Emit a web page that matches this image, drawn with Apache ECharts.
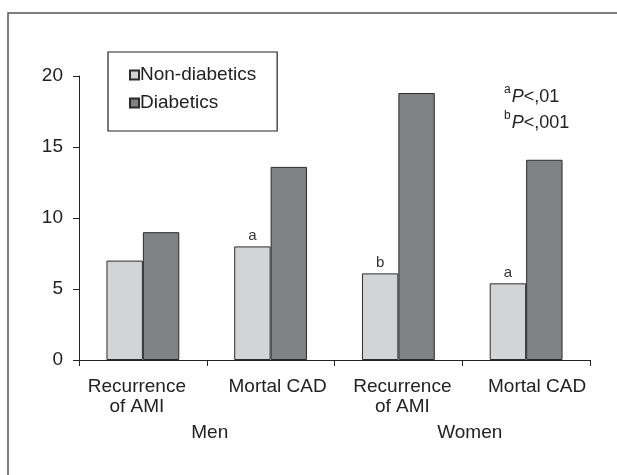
<!DOCTYPE html>
<html>
<head>
<meta charset="utf-8">
<script src="https://cdn.jsdelivr.net/npm/echarts@6/dist/echarts.min.js"></script>
<style>html,body{margin:0;padding:0;background:#fff}#c{width:617px;height:475px}</style>
</head>
<body>
<div id="c"></div>
<script>
var categories = ['Recurrence\nof AMI', 'Mortal CAD', 'Recurrence\nof AMI', 'Mortal CAD'];
var groups = ['Men', 'Women'];
var nonDiabetics = [7.0, 8.0, 6.1, 5.4];
var diabetics = [9.0, 13.6, 18.8, 14.1];
var annotations = ['', 'a', 'b', 'a'];
var seriesNames = ['Non-diabetics', 'Diabetics'];
var yMin = 0, yMax = 20, yStep = 5;

var FONT = '"Liberation Sans", Arial, sans-serif';

// horizontal nudges of the axis labels (layout only)
function nudge(px) {
  return px >= 0 ? [0, 0, 0, 2 * px] : [0, -2 * px, 0, 0];
}
var catShift = [-6, 7, 4, 11];
var grpShift = [3, 7.5];

var chart = echarts.init(document.getElementById('c'), null, {renderer: 'canvas'});
chart.setOption({
  animation: false,
  backgroundColor: '#fff',
  textStyle: {fontFamily: FONT},
  grid: {left: 79, right: 27, top: 76, bottom: 115, containLabel: false},
  legend: {
    orient: 'vertical', left: 108, top: 52,
    padding: [13, 21, 18, 21],
    borderColor: '#222', borderWidth: 1.2,
    itemWidth: 9, itemHeight: 9, itemGap: 8,
    icon: 'rect',
    textStyle: {fontFamily: FONT, fontSize: 19, color: '#222', lineHeight: 20, padding: [0, 0, 0, -4]},
    data: seriesNames
  },
  title: {
    left: 504, top: 84, padding: 0,
    text: '{s|a}{i|P}{n|<,01}\n{s|b}{i|P}{n|<,001}',
    textStyle: {
      fontFamily: FONT, fontWeight: 'normal', fontSize: 18, color: '#222', lineHeight: 26,
      rich: {
        s: {fontFamily: FONT, fontSize: 12, color: '#222', verticalAlign: 'top', lineHeight: 26, padding: [0, 1, 0, 0]},
        i: {fontFamily: FONT, fontSize: 18, fontStyle: 'italic', color: '#222', lineHeight: 26},
        n: {fontFamily: FONT, fontSize: 18, color: '#222', lineHeight: 26}
      }
    }
  },
  xAxis: [{
    type: 'category', position: 'bottom',
    data: categories.map(function (c, i) { return {value: c, textStyle: {padding: nudge(catShift[i])}}; }),
    axisLine: {lineStyle: {color: '#222', width: 1}},
    axisTick: {show: true, interval: 0, length: 6, lineStyle: {color: '#222'}},
    axisLabel: {interval: 0, fontSize: 19, color: '#222', lineHeight: 20, margin: 17, fontFamily: FONT}
  }, {
    type: 'category', position: 'bottom',
    data: groups.map(function (g, i) { return {value: g, textStyle: {padding: nudge(grpShift[i])}}; }),
    axisLine: {show: false}, axisTick: {show: false},
    axisLabel: {interval: 0, fontSize: 19, color: '#222', lineHeight: 20, margin: 63, fontFamily: FONT}
  }],
  yAxis: {
    type: 'value', min: yMin, max: yMax, interval: yStep,
    axisLine: {show: true, lineStyle: {color: '#222', width: 1}},
    axisTick: {show: true, length: 6, lineStyle: {color: '#222'}},
    splitLine: {show: false},
    axisLabel: {fontSize: 19, color: '#222', margin: 16, fontFamily: FONT}
  },
  series: [{
    name: seriesNames[0], type: 'bar', xAxisIndex: 0, data: nonDiabetics,
    barGap: 0, barCategoryGap: '43%',
    itemStyle: {color: '#d3d4d6', borderColor: '#2b2b2b', borderWidth: 1},
    label: {
      show: true, position: 'top', distance: 3, fontSize: 15, color: '#333', fontFamily: FONT,
      formatter: function (p) { return annotations[p.dataIndex]; }
    }
  }, {
    name: seriesNames[1], type: 'bar', xAxisIndex: 0, data: diabetics,
    barGap: 0, barCategoryGap: '43%',
    itemStyle: {color: '#808183', borderColor: '#2b2b2b', borderWidth: 1}
  }],
  graphic: [{
    type: 'rect', silent: true,
    shape: {x: 8, y: 13, width: 700, height: 600},
    style: {fill: 'none', stroke: '#555', lineWidth: 1.5}
  }]
});
</script>
</body>
</html>
